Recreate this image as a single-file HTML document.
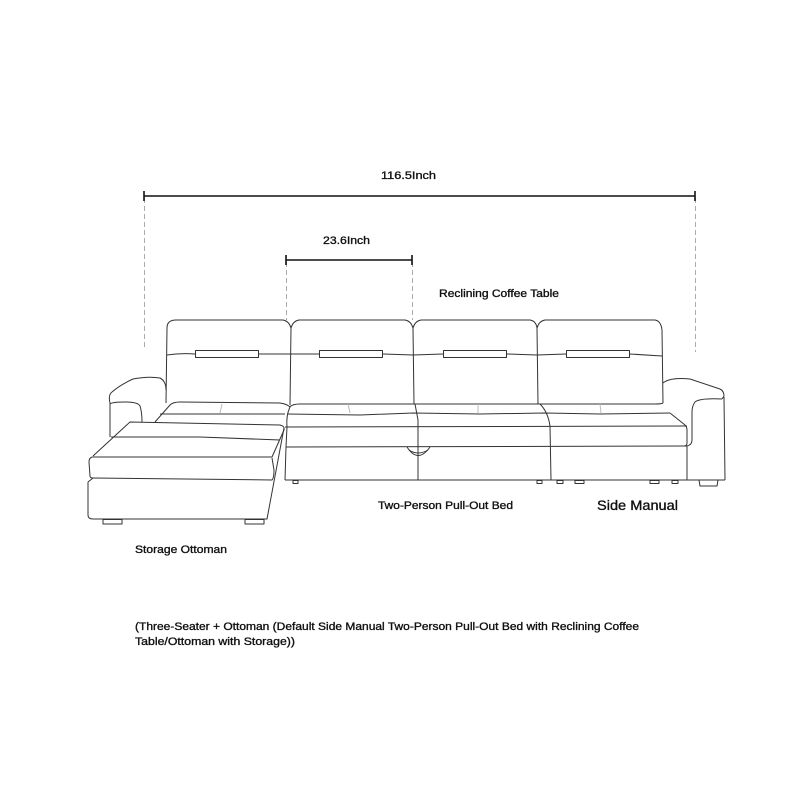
<!DOCTYPE html>
<html><head><meta charset="utf-8"><style>
html,body{margin:0;padding:0;background:#fff;width:800px;height:800px;overflow:hidden}
svg{display:block}
text{font-family:"Liberation Sans",sans-serif;fill:#111;stroke:#111;stroke-width:0.35}
</style></head><body>
<svg width="800" height="800" viewBox="0 0 800 800" xmlns="http://www.w3.org/2000/svg">
<g stroke="#aaa" stroke-width="1" stroke-dasharray="5,3" fill="none">
<line x1="144.5" y1="198" x2="144.5" y2="350"/>
<line x1="695.5" y1="198" x2="695.5" y2="352"/>
<line x1="286.5" y1="262" x2="286.5" y2="320"/>
<line x1="412.5" y1="262" x2="412.5" y2="320"/>
</g>
<g stroke="#111" stroke-width="1.6" fill="none">
<line x1="144" y1="196" x2="695" y2="196"/>
<line x1="144" y1="191" x2="144" y2="201"/>
<line x1="695" y1="191" x2="695" y2="201"/>
<line x1="286" y1="260" x2="412" y2="260"/>
<line x1="286" y1="255" x2="286" y2="265"/>
<line x1="412" y1="255" x2="412" y2="265"/>
</g>
<text x="381" y="179" font-size="11" textLength="55" lengthAdjust="spacingAndGlyphs">116.5Inch</text>
<text x="323" y="244" font-size="11" textLength="47" lengthAdjust="spacingAndGlyphs">23.6Inch</text>
<text x="439" y="297" font-size="11" textLength="120" lengthAdjust="spacingAndGlyphs">Reclining Coffee Table</text>
<text x="378" y="509" font-size="11" textLength="135" lengthAdjust="spacingAndGlyphs">Two-Person Pull-Out Bed</text>
<text x="597" y="510" font-size="14" textLength="81" lengthAdjust="spacingAndGlyphs">Side Manual</text>
<text x="135" y="553" font-size="11" textLength="92" lengthAdjust="spacingAndGlyphs">Storage Ottoman</text>
<text x="135" y="630" font-size="11" textLength="504" lengthAdjust="spacingAndGlyphs">(Three-Seater + Ottoman (Default Side Manual Two-Person Pull-Out Bed with Reclining Coffee</text>
<text x="135" y="645" font-size="11" textLength="160" lengthAdjust="spacingAndGlyphs">Table/Ottoman with Storage))</text>

<g stroke="#333" stroke-width="1" fill="none" stroke-linejoin="round">
<path d="M166,403 L167,328 Q167,320 176,320 L283,320 Q289,321 291,328 Q293,321 299,320 L405,320 Q411,321 413,328 Q415,321 421,320 L530,320 Q536,321 537,328 Q539,321 545,320 L655,320 Q661,321 662,330 L663,403"/>
<line x1="291" y1="328" x2="290" y2="405"/>
<line x1="413" y1="328" x2="414" y2="404"/>
<line x1="537" y1="328" x2="538" y2="404"/>
<path d="M167,355 Q180,353 195,354 M259,354 L291,354 L319,354 M383,354 L413,355 L443,354 M507,354 L537,355 L566,354 M630,354 L662,356"/>
<rect x="195.5" y="350.5" width="63" height="7"/>
<rect x="319.5" y="350.5" width="63" height="7"/>
<rect x="443.5" y="350.5" width="63" height="7"/>
<rect x="566.5" y="350.5" width="63" height="7"/>
<path d="M110,403 Q108,395 112,392 Q120,385 133,379 Q148,376 160,378 Q166,381 166,390"/>
<path d="M110,404 Q112,402 125,402 Q138,402 140,406 Q142,412 142,422"/>
<path d="M110,403 L110,437"/>
<path d="M155,422 L170,405 Q173,402 180,402 L280,403 Q287,404 290,407"/>
<path d="M160,414 L285,414"/>
<line x1="222" y1="404" x2="220" y2="413" stroke="#bbb"/>
<path d="M93,456 L130,422 L280,425 Q285,426 284,430 L272,457 L92,457"/>
<path d="M111,437 L200,437 L280,440"/>
<path d="M92,457 Q89,458 89,462 L90,476 Q90,478 93,478 L272,480 Q274,478 274,470 L272,458"/>
<path d="M88,482 L88,515 Q88,519 93,519 L267,519 L284,428"/>
<path d="M88,482 L93,478"/>
<rect x="103" y="519.5" width="19" height="4.5"/>
<rect x="245" y="519.5" width="19" height="4.5"/>
<path d="M290,407 Q292,404 300,404 L413,404 L540,404 L655,404 Q662,404 663,403"/>
<path d="M287,414 L360,415 L413,413 L480,414 L545,413 L600,414 L670,413"/>
<path d="M670,413 L685,425 Q687,427 687,430 L687,443 Q687,446 684,446"/>
<line x1="285" y1="427" x2="687" y2="426"/>
<line x1="286" y1="447" x2="687" y2="446"/>
<path d="M290,407 Q286,415 287,427 L286,447 L285,480"/>
<line x1="285" y1="480" x2="725" y2="480"/>
<path d="M415,404 L418,420 L418,480"/>
<path d="M540,404 Q548,412 550,426 L551,480"/>
<line x1="687" y1="446" x2="687" y2="480"/>
<line x1="348" y1="404" x2="350" y2="413" stroke="#bbb"/>
<line x1="478" y1="404" x2="478" y2="413" stroke="#bbb"/>
<line x1="600" y1="404" x2="601" y2="413" stroke="#bbb"/>
<path d="M407,447 Q418,464 430,447"/>
<path d="M409,450 Q418,456 428,450"/>
<path d="M663,383 Q670,377 690,379 L720,389 Q724,391 724,396 L722,399"/>
<path d="M722,399 Q700,398 695,402 Q692,406 692,412 L692,440 Q692,445 687,446"/>
<path d="M724,397 L725,480"/>
<rect x="293" y="480.5" width="5" height="3"/>
<rect x="537" y="480.5" width="5" height="3"/>
<rect x="557" y="480.5" width="6" height="3"/>
<rect x="575" y="480.5" width="9" height="3"/>
<rect x="650" y="480.5" width="9" height="3"/>
<rect x="672" y="480.5" width="6" height="3"/>
<path d="M699,480 L700,486 L717,486 L718,480"/>
</g>
</svg>
</body></html>
